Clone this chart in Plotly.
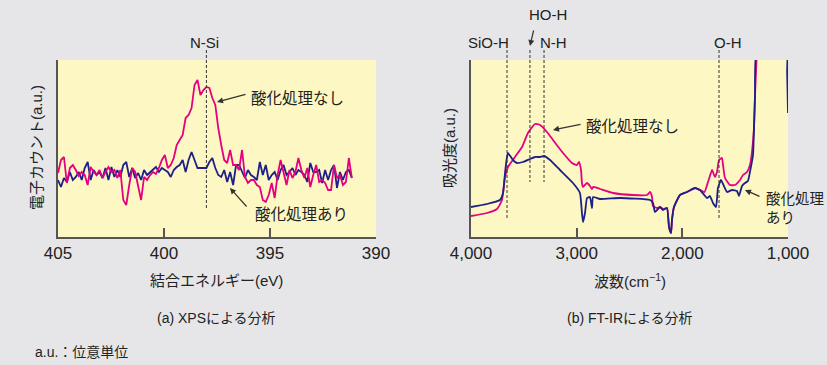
import numpy as np
import plotly.graph_objects as go

# ---------------- XPS data (binding energy, eV) ----------------
xps_energy = np.round(405 - 0.14 * np.arange(100), 2)
xps_untreated = [64, 77, 80, 54, 69, 72, 67, 61, 65, 62,
                 52, 70, 65, 62, 67, 59, 65, 70, 65, 67,
                 59, 67, 37, 32, 52, 69, 65, 52, 37, 60,
                 57, 62, 65, 63, 69, 77, 82, 69, 72, 79,
                 92, 97, 102, 119, 122, 129, 152, 157, 142, 147,
                 150, 149, 139, 132, 109, 92, 77, 74, 87, 72,
                 72, 67, 87, 60, 54, 57, 57, 52, 50, 37,
                 35, 42, 54, 39, 62, 77, 65, 52, 67, 59,
                 65, 79, 67, 59, 69, 50, 62, 72, 55, 57,
                 54, 47, 47, 72, 59, 62, 52, 55, 79, 59]
xps_treated = [57, 50, 59, 55, 65, 57, 60, 65, 57, 69,
               75, 57, 67, 62, 65, 59, 69, 57, 70, 60,
               67, 60, 72, 75, 60, 69, 59, 64, 57, 67,
               62, 65, 67, 70, 65, 69, 67, 65, 60, 67,
               70, 72, 77, 65, 77, 85, 77, 69, 69, 69,
               69, 75, 79, 69, 62, 60, 67, 55, 65, 52,
               72, 72, 65, 59, 67, 62, 60, 57, 75, 62,
               72, 57, 62, 65, 57, 67, 72, 62, 65, 69,
               62, 67, 65, 62, 55, 74, 65, 65, 67, 54,
               67, 57, 67, 72, 49, 65, 57, 65, 67, 59]
xps_ticks = [405, 400, 395, 390]

# ---------------- FT-IR data (wavenumber, cm-1) ----------------
ir_wn_untreated = [4000, 3849, 3754, 3707, 3678, 3650, 3584, 3517, 3461, 3394,
                   3347, 3281, 3224, 3129, 3044, 2997, 2978, 2959, 2950, 2940,
                   2902, 2874, 2855, 2845, 2779, 2656, 2467, 2334, 2306, 2287,
                   2278, 2240, 2211, 2183, 2145, 2126, 2107, 2098, 2079, 2022,
                   1956, 1880, 1833, 1790, 1757, 1719, 1710, 1691, 1672, 1653,
                   1625, 1615, 1596, 1549, 1502, 1454, 1426, 1388, 1360, 1341,
                   1322, 1312, 1294]
ir_untreated = [21, 24, 28, 37, 60, 70, 80, 90, 104, 113,
                112, 105, 97, 84, 74, 72, 75, 67, 54, 50,
                54, 51, 48, 50, 48, 44, 42, 42, 45, 40,
                31, 29, 30, 28, 29, 10, 4, 17, 30, 42,
                45, 49, 47, 45, 55, 67, 65, 60, 65, 77,
                79, 72, 59, 52, 52, 57, 62, 65, 72, 85,
                109, 142, 187]
ir_wn_treated = [4000, 3849, 3726, 3697, 3678, 3659, 3650, 3603, 3565, 3508,
                 3442, 3394, 3347, 3309, 3252, 3158, 3035, 2969, 2950, 2940,
                 2921, 2902, 2874, 2855, 2845, 2779, 2590, 2306, 2278, 2259,
                 2211, 2183, 2145, 2126, 2107, 2098, 2079, 2022, 1956, 1880,
                 1833, 1767, 1738, 1710, 1681, 1663, 1634, 1615, 1577, 1530,
                 1483, 1464, 1435, 1407, 1379, 1360, 1331, 1322, 1312, 1294,
                 1014, 1008, 1000]
ir_treated = [30, 33, 37, 44, 64, 80, 84, 77, 74, 75,
              78, 80, 80, 81, 77, 67, 54, 44, 24, 15,
              24, 39, 40, 29, 40, 38, 39, 37, 34, 25,
              30, 27, 29, 10, 4, 17, 30, 42, 45, 49,
              47, 39, 41, 34, 30, 49, 57, 53, 45, 47,
              46, 41, 51, 54, 56, 65, 82, 109, 142, 187,
              200, 165, 124]
ir_ticks = [4000, 3000, 2000, 1000]
ir_ticktext = ["4,000", "3,000", "2,000", "1,000"]

PINK = "#e4007f"
BLUE = "#1d2088"
AXC = "#555555"
TXT = "#222222"
FONT = "Liberation Sans, Noto Sans CJK JP, sans-serif"
JFONT = "Noto Sans CJK JP, sans-serif"

fig = go.Figure()
fig.add_trace(go.Scatter(x=xps_energy, y=xps_treated, mode="lines",
                         line=dict(color=BLUE, width=1.8), xaxis="x", yaxis="y"))
fig.add_trace(go.Scatter(x=xps_energy, y=xps_untreated, mode="lines",
                         line=dict(color=PINK, width=1.8), xaxis="x", yaxis="y"))
fig.add_trace(go.Scatter(x=ir_wn_untreated, y=ir_untreated, mode="lines",
                         line=dict(color=PINK, width=1.8, shape="spline", smoothing=0.5),
                         xaxis="x2", yaxis="y2"))
fig.add_trace(go.Scatter(x=ir_wn_treated, y=ir_treated, mode="lines",
                         line=dict(color=BLUE, width=1.8, shape="spline", smoothing=0.4),
                         xaxis="x2", yaxis="y2"))

W, H = 827, 365
def py(p):
    return 1 - p / H

ydom = [py(237), py(60)]
axis_common = dict(showline=True, linecolor=AXC, linewidth=2, ticks="inside",
                   ticklen=9, tickwidth=1.5, tickcolor=AXC, showgrid=False,
                   zeroline=False, automargin=False,
                   tickfont=dict(size=17, color=TXT, family=FONT))
yaxis_common = dict(domain=ydom, range=[0, 177], showline=True, linecolor=AXC, linewidth=2,
                    showticklabels=False, ticks="", showgrid=False, zeroline=False,
                    automargin=False)
fig.update_layout(
    width=W, height=H, margin=dict(l=0, r=0, t=0, b=0, pad=0),
    paper_bgcolor="#e6e6e8", plot_bgcolor="#fdf7c3", showlegend=False,
    font=dict(family=FONT, color=TXT),
    xaxis=dict(domain=[58 / W, 376 / W], range=[405, 390], tickvals=xps_ticks,
               anchor="y", **axis_common),
    yaxis=dict(anchor="x", **yaxis_common),
    xaxis2=dict(domain=[471 / W, 788 / W], range=[4000, 1000], tickvals=ir_ticks,
                ticktext=ir_ticktext, anchor="y2", **axis_common),
    yaxis2=dict(anchor="x2", **yaxis_common),
)

shapes = []
def vdash(xref, x, p0, p1):
    shapes.append(dict(type="line", xref=xref, yref="paper", x0=x, x1=x,
                       y0=py(p0), y1=py(p1), line=dict(color="#333", width=1, dash="3px,2px")))
vdash("x", 398.0, 50, 210)
vdash("x2", 3659, 50, 218)
vdash("x2", 3442, 50, 182)
vdash("x2", 3309, 50, 182)
vdash("x2", 1653, 50, 218)
fig.update_layout(shapes=shapes)

ann = []
def label(xref, x, p, text, size=15, xanchor="center", font=FONT):
    ann.append(dict(xref=xref, yref="paper", x=x, y=py(p), text=text, showarrow=False,
                    xanchor=xanchor, yanchor="middle", font=dict(size=size, color=TXT, family=font)))

label("x", 398.07, 43, "N-Si")
label("x2", 3839, 43, "SiO-H")
label("x2", 3224, 43, "N-H")
label("x2", 3271, 15, "HO-H")
label("x2", 1568, 43, "O-H")

# HO-H arrow
ann.append(dict(xref="x2", yref="paper", x=3442, y=py(46), ax=4, ay=-17, text="",
                showarrow=True, arrowhead=2, arrowsize=1, arrowwidth=1.2, arrowcolor="#333"))

def seriestext(xref, yref, x, y, text, size=15.5):
    ann.append(dict(xref=xref, yref=yref, x=x, y=y, text=text, showarrow=False,
                    xanchor="left", yanchor="middle", align="left",
                    font=dict(size=size, color=TXT, family=JFONT)))
def arrow(xref, yref, x, y, ax, ay):
    ann.append(dict(xref=xref, yref=yref, x=x, y=y, ax=ax, ay=ay, text="",
                    showarrow=True, arrowhead=2, arrowsize=1, arrowwidth=1.2, arrowcolor="#333"))

seriestext("x", "y", 396.0, 140, "酸化処理なし")
arrow("x", "y", 397.5, 135, 30, -8)
seriestext("x", "y", 395.8, 24, "酸化処理あり")
arrow("x", "y", 396.89, 49, 18, 20)
seriestext("x2", "y2", 2931, 112, "酸化処理なし")
arrow("x2", "y2", 3224, 107, 29, -6)
seriestext("x2", "y2", 1228, 30, "酸化処理<br>あり", size=14.5)
arrow("x2", "y2", 1407, 47, 16, 7)

def ptext(xp, p, text, size=15, angle=0, xanchor="center"):
    ann.append(dict(xref="paper", yref="paper", x=xp / W, y=py(p), text=text, showarrow=False,
                    xanchor=xanchor, yanchor="middle", textangle=angle,
                    font=dict(size=size, color=TXT, family=FONT)))

ptext(216, 280, "結合エネルギー(eV)")
ptext(630, 280, "波数(cm<sup>−1</sup>)")
ptext(216, 318, "(a) XPSによる分析", size=14)
ptext(630, 318, "(b) FT-IRによる分析", size=14)
ptext(33, 352, "a.u.：位意単位", size=14, xanchor="left")
ptext(36, 148, "電子カウント(a.u.)", angle=-90)
ptext(449, 148, "吸光度(a.u.)", angle=-90)

fig.update_layout(annotations=ann)
fig.write_html("out.html", config={"displayModeBar": False},
               post_script="document.body.style.margin='0';document.body.style.background='#e6e6e8';")
